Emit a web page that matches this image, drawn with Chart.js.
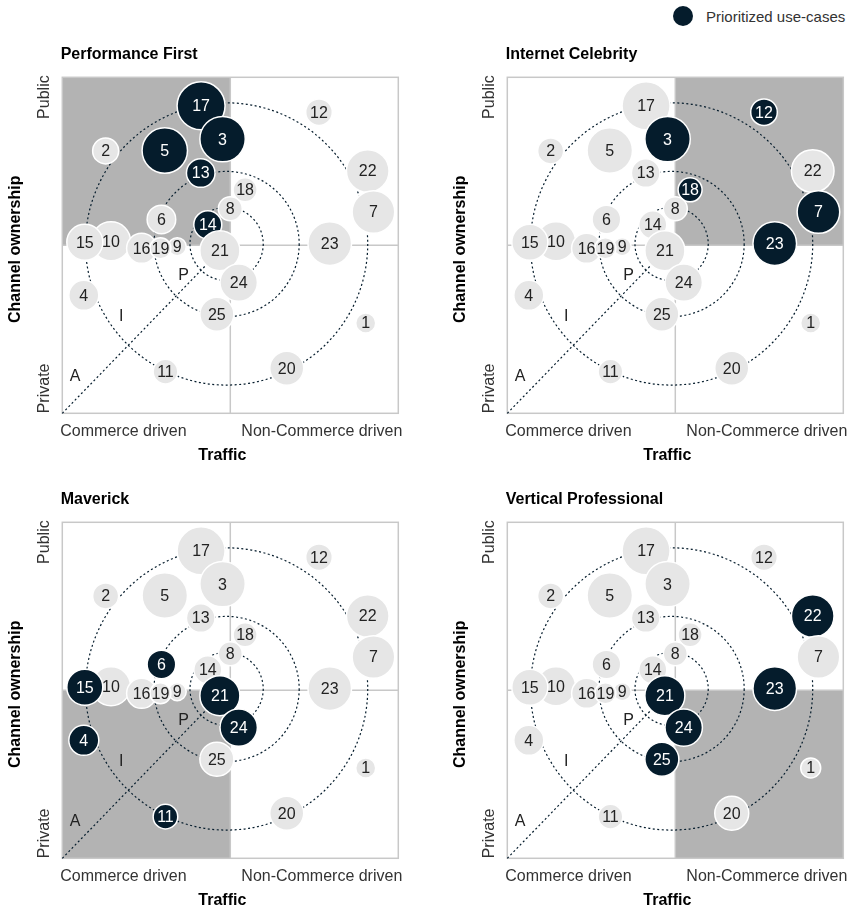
<!DOCTYPE html>
<html>
<head>
<meta charset="utf-8">
<script src="https://cdn.jsdelivr.net/npm/chart.js@4.4.0/dist/chart.umd.min.js"></script>
<style>
  html, body { margin: 0; padding: 0; background: #fff; width: 852px; height: 909px; overflow: hidden;
    font-family: "Liberation Sans", Arial, sans-serif; }
  .panel { position: absolute; }
  #legend { position: absolute; left: 673px; top: 6px; height: 20px; display: flex; align-items: center;
    font-size: 15px; color: #333; }
  #legend .dot { width: 20px; height: 20px; border-radius: 50%; background: #051c2c; margin-right: 13px; }
</style>
</head>
<body>
<div id="legend"><span class="dot"></span>Prioritized use-cases</div>
<canvas id="c0" class="panel" width="407" height="435" style="left:0px;top:28px"></canvas>
<canvas id="c1" class="panel" width="407" height="435" style="left:445px;top:28px"></canvas>
<canvas id="c2" class="panel" width="407" height="435" style="left:0px;top:473px"></canvas>
<canvas id="c3" class="panel" width="407" height="435" style="left:445px;top:473px"></canvas>
<script>
// use-cases, listed in drawing order (top of chart first)
const useCaseIds = [17, 12, 3, 5, 2, 22, 13, 18, 8, 7, 6, 14, 10, 15, 23, 9, 16, 19, 21, 24, 4, 25, 1, 20, 11];
// Traffic: 0 = commerce driven, 100 = non-commerce driven
const traffic   = [41.3, 76.4, 47.7, 30.5, 12.9, 90.9, 41.2, 54.4, 50.0, 92.6, 29.5, 43.3, 14.5, 6.7, 79.6, 34.2, 23.6, 29.2, 46.9, 52.5, 6.4, 46.0, 90.3, 66.8, 30.7];
// Channel ownership: 0 = private, 100 = public
const ownership = [91.5, 89.6, 81.6, 78.2, 78.1, 72.1, 71.5, 66.5, 60.9, 59.9, 57.7, 56.1, 51.2, 50.9, 50.5, 49.6, 49.1, 49.1, 48.4, 38.9, 35.1, 29.5, 26.9, 13.4, 12.4];
const bubbleSize = [24, 13.3, 22.7, 22.7, 13, 21.3, 14.3, 12, 12, 21.3, 14.3, 14, 19.5, 18, 21.8, 9, 15, 10.5, 20, 18.7, 15, 17, 10, 17, 12.3];

const panelTitles = ['Performance First', 'Internet Celebrity', 'Maverick', 'Vertical Professional'];
const prioritized = [
  [17, 3, 5, 13, 14],
  [3, 12, 18, 7, 23],
  [15, 6, 4, 21, 24, 11],
  [22, 23, 21, 24, 25]
];
const shadedQuadrant = ['TL', 'TR', 'BL', 'BR'];

// rings and maturity zones
const ringCenter = [48.9, 50.4];
const ringRadii = [10.9, 21.6, 42];
const zoneLabels = ['A', 'I', 'P'];
const zoneX = [3.8, 17.5, 36.1];
const zoneY = [10.9, 28.7, 40.9];

const NAVY = '#051c2c', LIGHT = '#e6e6e6', FONT = '"Liberation Sans", Arial, sans-serif';

const decor = {
  id: 'decor',
  beforeDatasetsDraw(chart, args, opts) {
    const { ctx, chartArea: a, scales: { x, y } } = chart;
    const mx = x.getPixelForValue(50), my = y.getPixelForValue(50);
    ctx.save();
    // shaded quadrant
    const sx = opts.shade[1] === 'L' ? a.left : mx;
    const sy = opts.shade[0] === 'T' ? a.top : my;
    ctx.fillStyle = '#b3b3b3';
    ctx.fillRect(sx, sy, mx - a.left, my - a.top);
    // frame and mid lines
    ctx.strokeStyle = '#c8c8c8';
    ctx.lineWidth = 1.5;
    ctx.strokeRect(a.left, a.top, a.width, a.height);
    ctx.beginPath();
    ctx.moveTo(mx, a.top); ctx.lineTo(mx, a.bottom);
    ctx.moveTo(a.left, my); ctx.lineTo(a.right, my);
    ctx.stroke();
    // dotted rings + diagonal
    ctx.strokeStyle = NAVY;
    ctx.lineWidth = 1.2;
    ctx.setLineDash([2, 2.5]);
    const cx = x.getPixelForValue(ringCenter[0]), cy = y.getPixelForValue(ringCenter[1]);
    ringRadii.forEach(r => {
      const pr = x.getPixelForValue(ringCenter[0] + r) - cx;
      ctx.beginPath();
      ctx.arc(cx, cy, pr, 0, Math.PI * 2);
      ctx.stroke();
    });
    ctx.beginPath();
    ctx.moveTo(x.getPixelForValue(0), y.getPixelForValue(0));
    ctx.lineTo(cx, cy);
    ctx.stroke();
    ctx.setLineDash([]);
    // zone letters
    ctx.fillStyle = '#222';
    ctx.font = '16px ' + FONT;
    ctx.textAlign = 'center';
    ctx.textBaseline = 'middle';
    zoneLabels.forEach((t, i) => ctx.fillText(t, x.getPixelForValue(zoneX[i]), y.getPixelForValue(zoneY[i])));
    ctx.restore();
  },
  afterDatasetsDraw(chart, args, opts) {
    const { ctx } = chart;
    const meta = chart.getDatasetMeta(0);
    ctx.save();
    ctx.font = '16px ' + FONT;
    ctx.textAlign = 'center';
    ctx.textBaseline = 'middle';
    meta.data.forEach((pt, i) => {
      const id = useCaseIds[i];
      ctx.fillStyle = opts.prio.includes(id) ? '#fff' : '#222';
      ctx.fillText(String(id), pt.x, pt.y + 1);
    });
    ctx.restore();
  },
  afterDraw(chart, args, opts) {
    const { ctx, chartArea: a } = chart;
    ctx.save();
    ctx.fillStyle = '#000';
    ctx.textBaseline = 'middle';
    ctx.font = 'bold 16px ' + FONT;
    ctx.textAlign = 'left';
    ctx.fillText(opts.title, a.left - 1.6, a.top - 23);
    ctx.textAlign = 'center';
    ctx.fillText('Traffic', (a.left + a.right) / 2 - 8, a.top + 378);
    // rotated y title
    ctx.save();
    ctx.translate(a.left - 46.6, a.top + 172);
    ctx.rotate(-Math.PI / 2);
    ctx.fillText('Channel ownership', 0, 0);
    ctx.restore();
    ctx.font = '16px ' + FONT;
    ctx.fillStyle = '#333';
    ctx.textAlign = 'left';
    ctx.fillText('Commerce driven', a.left - 2, a.top + 354.5);
    ctx.textAlign = 'right';
    ctx.fillText('Non-Commerce driven', a.right + 4, a.top + 354.5);
    ctx.save();
    ctx.translate(a.left - 17.6, a.top - 2);
    ctx.rotate(-Math.PI / 2);
    ctx.textAlign = 'right';
    ctx.fillText('Public', 0, 0);
    ctx.restore();
    ctx.save();
    ctx.translate(a.left - 17.6, a.bottom);
    ctx.rotate(-Math.PI / 2);
    ctx.textAlign = 'left';
    ctx.fillText('Private', 0, 0);
    ctx.restore();
    ctx.restore();
  }
};

panelTitles.forEach((title, p) => {
  const prio = prioritized[p];
  new Chart(document.getElementById('c' + p), {
    type: 'bubble',
    data: {
      datasets: [{
        data: useCaseIds.map((id, i) => ({ x: traffic[i], y: ownership[i], r: bubbleSize[i] })),
        backgroundColor: useCaseIds.map(id => prio.includes(id) ? NAVY : LIGHT),
        borderColor: '#fff',
        borderWidth: 1.5,
        hoverRadius: 0,
        clip: false
      }]
    },
    options: {
      responsive: false,
      animation: false,
      events: [],
      layout: { autoPadding: false, padding: { left: 62.3, top: 49.3, right: 8.7, bottom: 49.7 } },
      scales: {
        x: { type: 'linear', min: 0, max: 100, display: false },
        y: { type: 'linear', min: 0, max: 100, display: false }
      },
      plugins: {
        legend: { display: false },
        tooltip: { enabled: false },
        decor: { title: title, prio: prio, shade: shadedQuadrant[p] }
      }
    },
    plugins: [decor]
  });
});
</script>
</body>
</html>
